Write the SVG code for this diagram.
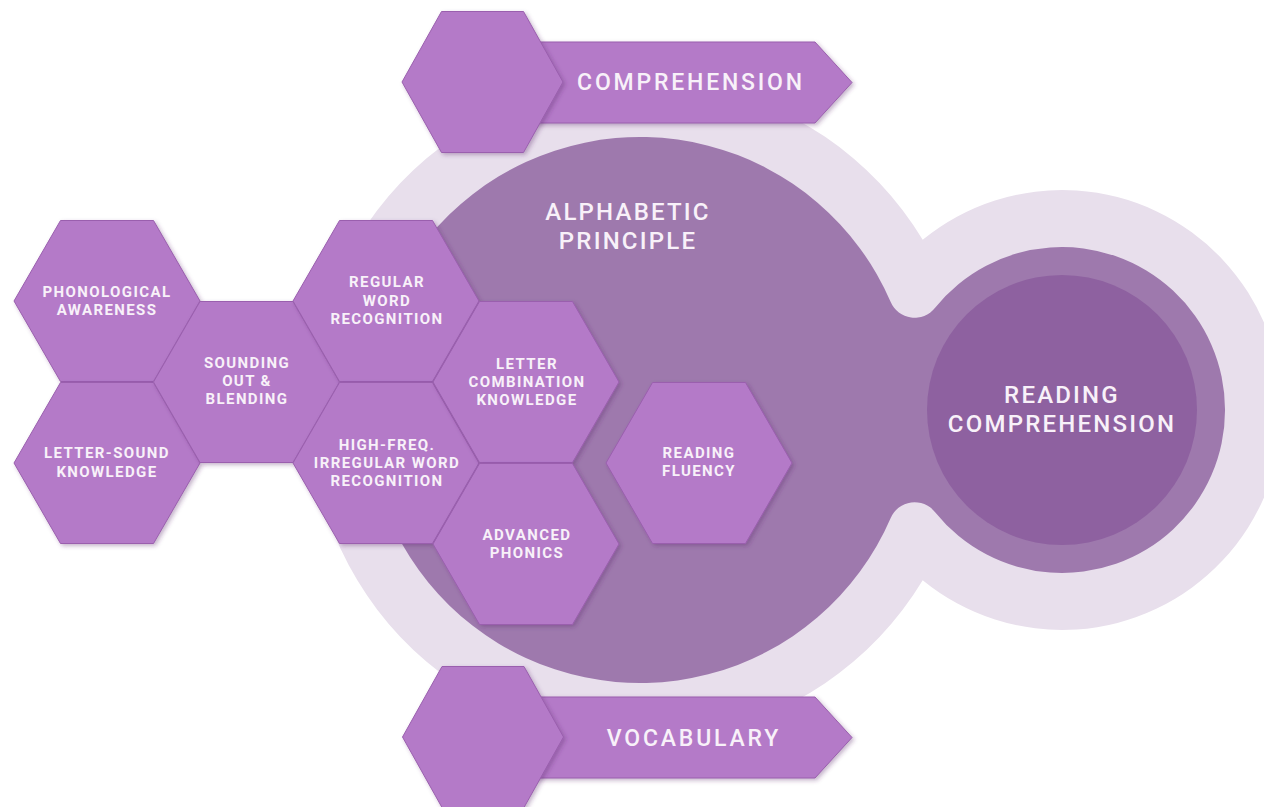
<svg xmlns="http://www.w3.org/2000/svg" xmlns:xlink="http://www.w3.org/1999/xlink" width="1264" height="807" viewBox="0 0 1264 807">
<style>
.halo{fill:#e8dfec}
.ring{fill:#9e79ad}
.core{fill:#8e61a0}
.hex{fill:#b47ac8;stroke:#9a5fae;stroke-width:1;filter:url(#sh)}
.t{font-family:Roboto,"Liberation Sans",sans-serif;fill:#f8f1f9;text-anchor:middle}
.hl{font-size:15px;font-weight:700;letter-spacing:1.4px}
.big{font-size:24px;font-weight:500;letter-spacing:2.2px}
.ban{font-size:23px;font-weight:500;letter-spacing:2.8px}
</style>
<defs>
<filter id="sh" x="-20%" y="-20%" width="140%" height="140%">
<feDropShadow dx="2" dy="2" stdDeviation="2" flood-color="#5a2f6a" flood-opacity="0.35"/>
</filter>
<polygon id="hx" points="-93,0 -46.5,-80.5 46.5,-80.5 93,0 46.5,80.5 -46.5,80.5"/>
<polygon id="hs" points="-80.5,0 -41,-70.5 41,-70.5 80.5,0 41,70.5 -41,70.5"/>
</defs>
<rect width="1264" height="807" fill="#ffffff"/>
<g id="background">
<path class="halo" d="M922.7 239.8 A330 330 0 1 0 922.7 580.2 A220 220 0 1 0 922.7 239.8 Z"/>
<path class="ring" d="M890.7 302 A273 273 0 1 0 890.7 518 A26 26 0 0 1 934.9 512 A163 163 0 1 0 934.9 308 A26 26 0 0 1 890.7 302 Z"/>
<circle class="core" cx="1062" cy="410" r="135"/>
</g>
<g id="alphabetic-principle">
<text class="t big" x="628" y="220">ALPHABETIC</text>
<text class="t big" x="628" y="249">PRINCIPLE</text>
</g>
<g id="reading-comprehension">
<text class="t big" x="1062" y="403">READING</text>
<text class="t big" x="1062" y="432">COMPREHENSION</text>
</g>
<g id="comprehension">
<polygon class="hex" points="490,42 815,42 852,82.5 815,123 490,123"/>
<use xlink:href="#hs" class="hex" x="482.5" y="82"/>
<text class="t ban" x="691" y="90">COMPREHENSION</text>
</g>
<g id="vocabulary">
<polygon class="hex" points="490,697 815,697 852,737.5 815,778 490,778"/>
<use xlink:href="#hs" class="hex" x="483" y="737"/>
<text class="t ban" x="694" y="746">VOCABULARY</text>
</g>
<g id="phonological-awareness">
<use xlink:href="#hx" class="hex" x="107" y="301"/>
<text class="t hl" x="107" y="297">PHONOLOGICAL</text>
<text class="t hl" x="107" y="315">AWARENESS</text>
</g>
<g id="letter-sound-knowledge">
<use xlink:href="#hx" class="hex" x="107" y="463"/>
<text class="t hl" x="107" y="458">LETTER-SOUND</text>
<text class="t hl" x="107" y="477">KNOWLEDGE</text>
</g>
<g id="sounding-out-blending">
<use xlink:href="#hx" class="hex" x="246.5" y="382"/>
<text class="t hl" x="247" y="368">SOUNDING</text>
<text class="t hl" x="247" y="386">OUT &amp;</text>
<text class="t hl" x="247" y="404">BLENDING</text>
</g>
<g id="regular-word-recognition">
<use xlink:href="#hx" class="hex" x="386" y="301"/>
<text class="t hl" x="387" y="287">REGULAR</text>
<text class="t hl" x="387" y="306">WORD</text>
<text class="t hl" x="387" y="324">RECOGNITION</text>
</g>
<g id="high-freq-irregular-word-recognition">
<use xlink:href="#hx" class="hex" x="386" y="463"/>
<text class="t hl" x="387" y="450">HIGH-FREQ.</text>
<text class="t hl" x="387" y="468">IRREGULAR WORD</text>
<text class="t hl" x="387" y="486">RECOGNITION</text>
</g>
<g id="letter-combination-knowledge">
<use xlink:href="#hx" class="hex" x="526" y="382"/>
<text class="t hl" x="527" y="369">LETTER</text>
<text class="t hl" x="527" y="387">COMBINATION</text>
<text class="t hl" x="527" y="405">KNOWLEDGE</text>
</g>
<g id="advanced-phonics">
<use xlink:href="#hx" class="hex" x="526" y="544"/>
<text class="t hl" x="527" y="540">ADVANCED</text>
<text class="t hl" x="527" y="558">PHONICS</text>
</g>
<g id="reading-fluency">
<use xlink:href="#hx" class="hex" x="699" y="463"/>
<text class="t hl" x="699" y="458">READING</text>
<text class="t hl" x="699" y="476">FLUENCY</text>
</g>
<g id="connectors"></g>
</svg>
